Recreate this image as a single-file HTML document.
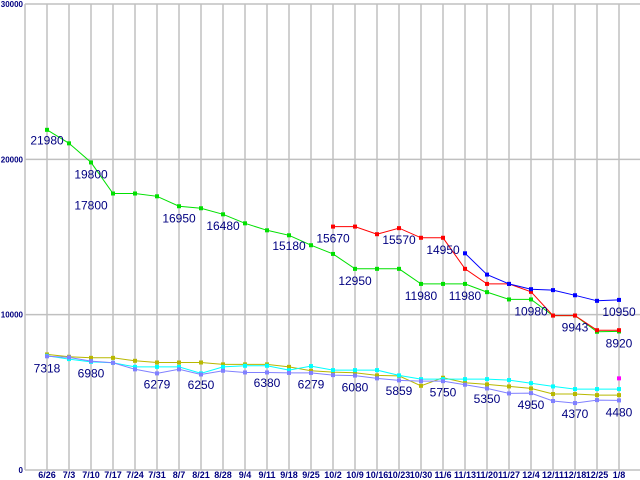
<!DOCTYPE html>
<html><head><meta charset="utf-8"><style>
body{margin:0;background:#fff;}
svg{display:block;font-family:"Liberation Sans",sans-serif;}
</style></head><body>
<svg id="chart" width="640" height="480" viewBox="0 0 640 480" xmlns="http://www.w3.org/2000/svg">
<g id="grid"></g>
<g id="series"></g>
<g id="labels"></g>
<g id="axes"></g>
</svg>
<script>
const categories=["6/26","7/3","7/10","7/17","7/24","7/31","8/7","8/21","8/28","9/4","9/11","9/18","9/25","10/2","10/9","10/16","10/23","10/30","11/6","11/13","11/20","11/27","12/4","12/11","12/18","12/25","1/8"];
const yTicks=[0,10000,20000,30000];
const greenVals=[21900,21030,19800,17800,17800,17620,16980,16850,16460,15880,15430,15110,14470,13910,12950,12950,12950,11980,11980,11980,11450,10980,10980,9943,9943,8900,8920];
const redVals=[null,null,null,null,null,null,null,null,null,null,null,null,null,15670,15670,15180,15570,14950,14950,12950,11980,11980,11470,9943,9943,9000,9000];
const blueVals=[null,null,null,null,null,null,null,null,null,null,null,null,null,null,null,null,null,null,null,13950,12580,11980,11640,11580,11250,10890,10950];
const oliveVals=[7440,7290,7220,7220,7030,6920,6920,6920,6800,6800,6800,6640,6390,6300,6260,6090,6060,5420,5940,5620,5510,5380,5250,4890,4890,4820,4820];
const cyanVals=[7350,7140,6960,6900,6640,6640,6640,6220,6640,6710,6710,6430,6690,6430,6430,6430,6090,5850,5850,5850,5850,5790,5590,5380,5210,5210,5210];
const purpleVals=[7318,7250,7010,6900,6480,6220,6480,6150,6390,6280,6280,6250,6250,6110,6080,5900,5770,5720,5720,5490,5250,4930,4950,4440,4310,4500,4480];
const magentaVals=[null,null,null,null,null,null,null,null,null,null,null,null,null,null,null,null,null,null,null,null,null,null,null,null,null,null,5900];
const labelTexts=["21980","19800","17800","16950","16480","15180","15670","12950","15570","14950","11980","11980","10980","10950","9943","8920","7318","6980","6279","6250","6380","6279","6080","5859","5750","5350","4950","4370","4480"];
const labelIdx=[0,2,2,6,8,11,13,14,16,18,17,19,22,26,24,26,0,2,5,7,10,12,14,16,18,20,22,24,26];
const labelVals=[21980,19800,17800,16950,16480,15180,15670,12950,15570,14950,11980,11980,10980,10950,9943,8920,7318,6980,6279,6250,6380,6279,6080,5859,5750,5350,4950,4370,4480];

const NS="http://www.w3.org/2000/svg";
const X0=25,STEP=22,Y0=470,YS=466/30000;
function xAt(i){return X0+STEP*(i+1);}
function yAt(v){return Y0-v*YS;}
function mk(tag,attrs,parent){const e=document.createElementNS(NS,tag);for(const k in attrs)e.setAttribute(k,attrs[k]);parent.appendChild(e);return e;}
const grid=document.getElementById('grid'),ser=document.getElementById('series'),lab=document.getElementById('labels'),axes=document.getElementById('axes');

categories.forEach((c,i)=>{
  const l=mk('line',{x1:xAt(i),x2:xAt(i),y1:yAt(30000),y2:Y0,stroke:'#c0c0c0','stroke-width':1.5},grid);
  
  
  const t=mk('text',{x:xAt(i),y:478,'font-size':9,fill:'#000080','text-anchor':'middle','font-weight':'bold'},axes);
  t.textContent=c;
  
  
});
yTicks.forEach(v=>{
  const l=mk('line',{x1:X0,x2:640,y1:yAt(v),y2:yAt(v),stroke:'#c0c0c0','stroke-width':1.5},grid);
  
  
  const t=mk('text',{x:X0-2,y:yAt(v)+3,'font-size':8,fill:'#000080','text-anchor':'end','font-weight':'bold'},axes);
  t.textContent=String(v);
  
  
});
const la=mk('line',{x1:X0,x2:X0,y1:yAt(30000),y2:Y0,stroke:'#c0c0c0','stroke-width':1.5},axes);



function drawSeries(vals,color,name){
  const g=mk('g',{},ser);
  
  
  let d='',pen=false;
  vals.forEach((v,i)=>{if(v==null){pen=false;return;}d+=(pen?'L':'M')+xAt(i)+' '+yAt(v).toFixed(1)+' ';pen=true;});
  if(d){const p=mk('path',{d:d,fill:'none',stroke:color,'stroke-width':1},g);
    
    }
  vals.forEach((v,i)=>{if(v==null)return;
    const r=mk('rect',{x:xAt(i)-2,y:yAt(v)-2,width:4,height:4,fill:color},g);
    
    });
}
drawSeries(oliveVals,'#b8b800','olive-series');
drawSeries(cyanVals,'#00ffff','cyan-series');
drawSeries(purpleVals,'#8080ff','lavender-series');
drawSeries(greenVals,'#00e000','green-series');
drawSeries(redVals,'#ff0000','red-series');
drawSeries(blueVals,'#0000ff','blue-series');
drawSeries(magentaVals,'#ff00ff','magenta-series');

labelTexts.forEach((s,k)=>{
  const t=mk('text',{x:xAt(labelIdx[k]),y:yAt(labelVals[k])+16,'font-size':12,fill:'#000080','text-anchor':'middle'},lab);
  t.textContent=s;
  
  
});
</script>
</body></html>
